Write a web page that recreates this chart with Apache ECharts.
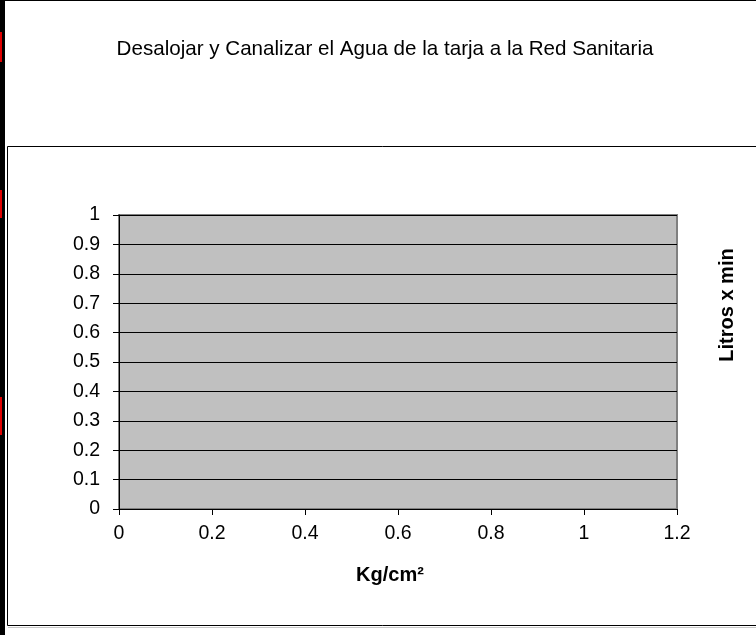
<!DOCTYPE html>
<html>
<head>
<meta charset="utf-8">
<script src="https://cdn.jsdelivr.net/npm/echarts@6/dist/echarts.min.js"></script>
<style>
  html, body { margin: 0; padding: 0; background: #fff; }
  #chart { width: 756px; height: 635px; }
</style>
</head>
<body>
<div id="chart"></div>
<script>
var chartTitle = 'Desalojar y Canalizar el Agua de la tarja a la Red Sanitaria';
var xName = 'Kg/cm²';
var yName = 'Litros x min';
// axis ranges: x 0..1.2 step 0.2, y 0..1 step 0.1
var xRange = [0, 1.2, 0.2];
var yRange = [0, 1, 0.1];
// the sheet has no points plotted
var points = [];

var font = 'Liberation Sans, Arial, sans-serif';

var option = {
    animation: false,
    backgroundColor: '#fff',
    title: {
        text: chartTitle,
        left: 380,
        top: 34,
        textAlign: 'center',
        textStyle: { fontFamily: font, fontSize: 20.6, fontWeight: 'normal', color: '#000' }
    },
    grid: {
        left: 119, top: 215, right: 79, bottom: 126,
        show: true,
        backgroundColor: '#c0c0c0',
        borderColor: '#808080',
        borderWidth: 2
    },
    xAxis: {
        type: 'value',
        min: xRange[0], max: xRange[1], interval: xRange[2],
        axisLine: { show: true, lineStyle: { color: '#000', width: 1 } },
        axisTick: { show: true, inside: false, length: 6, lineStyle: { color: '#000' } },
        axisLabel: { fontFamily: font, fontSize: 19.5, color: '#000', margin: 15 },
        splitLine: { show: false }
    },
    yAxis: {
        type: 'value',
        min: yRange[0], max: yRange[1], interval: yRange[2],
        axisLine: { show: true, lineStyle: { color: '#000', width: 1 } },
        axisTick: { show: true, inside: false, length: 6, lineStyle: { color: '#000' } },
        axisLabel: { fontFamily: font, fontSize: 19.5, color: '#000', margin: 19 },
        splitLine: { show: true, lineStyle: { color: '#000', width: 1 } }
    },
    graphic: [
        // inner chart frame (runs off the right edge)
        { type: 'rect', z: -10, shape: { x: 7.5, y: 146.5, width: 760, height: 479 },
          style: { fill: 'none', stroke: '#000', lineWidth: 1 } },
        { type: 'line', z: -10, shape: { x1: 8, y1: 627.5, x2: 756, y2: 627.5 },
          style: { stroke: '#c8c8c8', lineWidth: 1 } },
        // outer page border
        { type: 'line', shape: { x1: 0, y1: 0.5, x2: 756, y2: 0.5 }, style: { stroke: '#000', lineWidth: 1 } },
        { type: 'rect', shape: { x: 0, y: 0, width: 5, height: 635 }, style: { fill: '#000' } },
        { type: 'rect', shape: { x: 0, y: 32, width: 2, height: 30 }, style: { fill: '#e00000' } },
        { type: 'rect', shape: { x: 0, y: 190, width: 2, height: 28 }, style: { fill: '#e00000' } },
        { type: 'rect', shape: { x: 0, y: 397, width: 2, height: 38 }, style: { fill: '#e00000' } },
        // axis titles
        { type: 'text', x: 390, y: 575,
          style: { text: xName, font: 'bold 20px ' + font, fill: '#000',
                   textAlign: 'center', textVerticalAlign: 'middle' } },
        { type: 'text', x: 727, y: 305, rotation: Math.PI / 2,
          style: { text: yName, font: 'bold 20px ' + font, fill: '#000',
                   textAlign: 'center', textVerticalAlign: 'middle' } }
    ],
    series: [{
        type: 'scatter',
        data: points
    }]
};

var myChart = echarts.init(document.getElementById('chart'));
myChart.setOption(option);
</script>
</body>
</html>
